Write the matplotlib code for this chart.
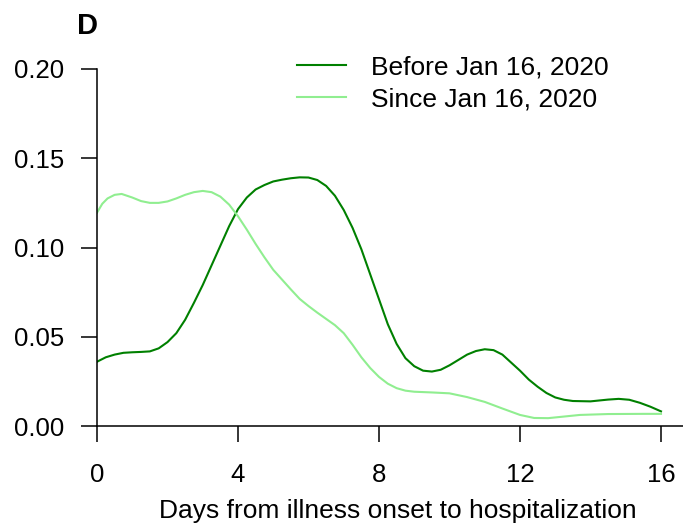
import matplotlib
matplotlib.use('Agg')
import matplotlib.pyplot as plt

plt.rcParams['font.family'] = ['Liberation Sans', 'DejaVu Sans']

# days from illness onset, density estimates
days_before = [0, 0.25, 0.5, 0.75, 1.0, 1.25, 1.5, 1.75, 2.0, 2.25, 2.5, 2.75, 3.0, 3.25,
               3.5, 3.75, 4.0, 4.25, 4.5, 4.75, 5.0, 5.25, 5.5, 5.75, 6.0, 6.25, 6.5,
               6.75, 7.0, 7.25, 7.5, 7.75, 8.0, 8.25, 8.5, 8.75, 9.0, 9.25, 9.5, 9.75,
               10.0, 10.25, 10.5, 10.75, 11.0, 11.25, 11.5, 11.75, 12.0, 12.25, 12.5,
               12.75, 13.0, 13.25, 13.5, 14.0, 14.5, 14.8, 15.1, 15.4, 15.7, 16.0]
dens_before = [0.036, 0.0385, 0.040, 0.041, 0.0413, 0.0415, 0.0418, 0.0435, 0.047, 0.052,
               0.0595, 0.069, 0.079, 0.090, 0.101, 0.112, 0.1215, 0.128, 0.1325, 0.135,
               0.137, 0.138, 0.1388, 0.1393, 0.1392, 0.1378, 0.1345, 0.129, 0.121, 0.111,
               0.099, 0.085, 0.071, 0.057, 0.046, 0.038, 0.0335, 0.031, 0.0305, 0.0315,
               0.034, 0.037, 0.040, 0.042, 0.043, 0.0425, 0.040, 0.0355, 0.031, 0.026,
               0.022, 0.0185, 0.016, 0.0147, 0.014, 0.0138, 0.0148, 0.0152, 0.0147, 0.013,
               0.0108, 0.0082]

days_since = [0, 0.15, 0.3, 0.5, 0.7, 1.0, 1.25, 1.5, 1.75, 2.0, 2.25, 2.5, 2.75, 3.0,
              3.25, 3.5, 3.75, 4.0, 4.25, 4.5, 4.75, 5.0, 5.25, 5.5, 5.75, 6.0, 6.25, 6.5,
              6.75, 7.0, 7.25, 7.5, 7.75, 8.0, 8.25, 8.5, 8.75, 9.0, 9.5, 10.0, 10.5,
              11.0, 11.5, 12.0, 12.4, 12.8, 13.2, 13.7, 14.5, 15.5, 16.0]
dens_since = [0.1195, 0.1245, 0.1275, 0.1295, 0.130, 0.128, 0.126, 0.125, 0.125, 0.1258,
              0.1275, 0.1295, 0.131, 0.1317, 0.131, 0.1285, 0.124, 0.1175, 0.110, 0.102,
              0.0945, 0.0875, 0.082, 0.0765, 0.0712, 0.0672, 0.0635, 0.060, 0.0565, 0.052,
              0.0455, 0.0385, 0.0325, 0.0275, 0.0237, 0.0212, 0.0198, 0.0192, 0.0188,
              0.0183, 0.0162, 0.0135, 0.0098, 0.0062, 0.0045, 0.0044, 0.0052, 0.0062,
              0.0067, 0.0068, 0.0068]

x_ticks = [0, 4, 8, 12, 16]
y_ticks = [0.00, 0.05, 0.10, 0.15, 0.20]

fig = plt.figure(figsize=(6.83, 5.26), dpi=100)
ax = fig.add_axes([97 / 683, 100 / 526, 586 / 683, 357 / 526])

ax.plot(days_before, dens_before, color='#008000', lw=1.5, label='Before Jan 16, 2020')
ax.plot(days_since, dens_since, color='#90ee90', lw=1.5, label='Since Jan 16, 2020')

ax.set_xlim(0, 586 / 35.25)
ax.set_ylim(0, 0.2)
ax.set_xticks(x_ticks)
ax.set_yticks(y_ticks)
ax.set_yticklabels([f'{v:.2f}' for v in y_ticks])

for s in ['top', 'right']:
    ax.spines[s].set_visible(False)
for s in ['left', 'bottom']:
    ax.spines[s].set_linewidth(1.1)
ax.tick_params(axis='both', length=11.5, width=1.1, labelsize=18.5)
ax.tick_params(axis='y', pad=12)
ax.tick_params(axis='x', pad=15)

ax.set_xlabel('Days from illness onset to hospitalization', fontsize=19, labelpad=9)
ax.xaxis.label.set_x(0.513)

ax.legend(loc='upper left', bbox_to_anchor=(284 / 683, 1 - 42 / 526),
          bbox_transform=fig.transFigure, frameon=False, fontsize=19,
          handlelength=1.85, handletextpad=0.95, labelspacing=0.3, borderpad=0)

fig.text(77 / 683, 1 - 34 / 526, 'D', fontsize=21, fontweight='bold', va='baseline')

fig.savefig('out.png', dpi=100)
